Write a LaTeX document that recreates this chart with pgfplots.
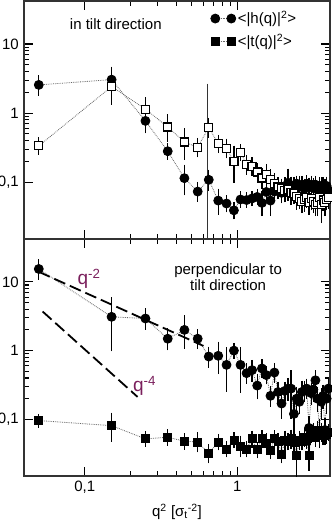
\documentclass[border=0pt]{standalone}
\usepackage{fontspec}
\setmainfont{Liberation Sans}
\usepackage{pgfplots}
\usepackage{pgfplotstable}
\pgfplotsset{compat=1.18}
\definecolor{annot}{HTML}{7A1F5C}

% x = q^2, y = value, e = error
\pgfplotstableread{
x y e
0.05 2.56 0.45
0.15 3.05 0.95
0.25 0.77 0.17
0.35 0.28 0.03
0.45 0.114 0.038
0.55 0.073 0.012
0.65 0.108 0.02
0.75 0.054 0.014
0.85 0.049 0.006
0.95 0.039 0.005
1.05 0.056 0.006
1.15 0.055 0.005
1.25 0.058 0.005
1.35 0.061 0.006
1.45 0.050 0.012
1.55 0.072 0.008
1.65 0.054 0.016
1.75 0.073 0.012
1.85 0.078 0.010
1.95 0.070 0.012
2.05 0.085 0.014
2.15 0.098 0.035
2.25 0.090 0.012
2.35 0.085 0.014
2.45 0.095 0.010
2.55 0.088 0.016
2.65 0.092 0.012
2.75 0.080 0.015
2.85 0.095 0.012
2.95 0.088 0.010
3.05 0.092 0.012
3.15 0.082 0.014
3.25 0.092 0.012
3.35 0.078 0.010
3.45 0.088 0.012
3.55 0.085 0.014
3.65 0.090 0.010
3.75 0.082 0.012
3.85 0.088 0.014
3.95 0.076 0.010
}\toph

\pgfplotstableread{
x y e
0.05 0.335 0.04
0.15 2.42 0.85
0.25 1.14 0.30
0.35 0.63 0.18
0.45 0.38 0.13
0.55 0.32 0.05
0.65 0.62 0.10
0.75 0.36 0.05
0.85 0.31 0.05
0.95 0.20 0.085
1.05 0.27 0.03
1.15 0.18 0.03
1.25 0.17 0.025
1.35 0.14 0.02
1.45 0.115 0.02
1.55 0.13 0.025
1.65 0.11 0.02
1.75 0.095 0.02
1.85 0.085 0.015
1.95 0.08 0.015
2.05 0.075 0.015
2.15 0.078 0.012
2.25 0.07 0.015
2.35 0.068 0.012
2.45 0.062 0.015
2.55 0.058 0.010
2.65 0.052 0.010
2.75 0.056 0.012
2.85 0.060 0.010
2.95 0.050 0.010
3.05 0.058 0.012
3.15 0.052 0.010
3.25 0.048 0.010
3.35 0.050 0.012
3.45 0.060 0.010
3.55 0.048 0.018
3.65 0.055 0.010
3.75 0.050 0.012
3.85 0.056 0.010
3.95 0.060 0.012
}\topt

\pgfplotstableread{
x y e
0.05 15.4 2.7
0.15 3.1 1.95
0.25 2.93 0.55
0.35 1.49 0.3
0.45 2.0 0.75
0.55 1.49 0.25
0.65 0.82 0.15
0.75 0.84 0.3
0.85 0.62 0.32
0.95 1.0 0.1
1.05 0.62 0.33
1.15 0.47 0.08
1.25 0.52 0.1
1.35 0.31 0.08
1.45 0.55 0.08
1.55 0.44 0.06
1.65 0.22 0.04
1.75 0.48 0.08
1.85 0.25 0.05
1.95 0.17 0.05
2.05 0.26 0.04
2.15 0.28 0.06
2.25 0.28 0.16
2.35 0.12 0.07
2.45 0.20 0.05
2.55 0.18 0.04
2.65 0.25 0.06
2.75 0.26 0.05
2.85 0.28 0.05
2.95 0.075 0.02
3.05 0.24 0.05
3.15 0.27 0.06
3.25 0.37 0.07
3.35 0.20 0.05
3.45 0.065 0.02
3.55 0.18 0.06
3.65 0.22 0.05
3.75 0.07 0.02
3.85 0.20 0.06
3.95 0.28 0.05
}\both

\pgfplotstableread{
x y e
0.05 0.096 0.006
0.15 0.081 0.025
0.25 0.052 0.005
0.35 0.055 0.006
0.45 0.048 0.005
0.55 0.047 0.008
0.65 0.032 0.005
0.75 0.047 0.005
0.85 0.037 0.004
0.95 0.050 0.005
1.05 0.041 0.008
1.15 0.037 0.004
1.25 0.052 0.006
1.35 0.036 0.004
1.45 0.053 0.006
1.55 0.045 0.008
1.65 0.035 0.004
1.75 0.053 0.006
1.85 0.048 0.006
1.95 0.031 0.004
2.05 0.050 0.008
2.15 0.048 0.006
2.25 0.052 0.008
2.35 0.046 0.006
2.45 0.030 0.013
2.55 0.050 0.008
2.65 0.048 0.006
2.75 0.055 0.008
2.85 0.050 0.006
2.95 0.030 0.009
3.05 0.062 0.008
3.15 0.065 0.010
3.25 0.055 0.008
3.35 0.070 0.010
3.45 0.060 0.008
3.55 0.065 0.010
3.65 0.058 0.008
3.75 0.068 0.010
3.85 0.060 0.008
3.95 0.065 0.008
}\bott

\begin{document}
\fontsize{15}{18}\selectfont
\begin{tikzpicture}
% lower panel: perpendicular to tilt direction
\begin{axis}[at={(0,0)}, anchor=south west,
  width=306pt, height=237pt, scale only axis,
  xmode=log, ymode=log,
  xmin=0.04, xmax=4.05, ymin=0.015, ymax=42,
  axis line style={black!80, line width=1.5pt},
  tick style={black, line width=1.1pt},
  major tick length=9pt, minor tick length=5pt,
  tick align=inside,
  xtick={0.1,1}, ytick={0.1,1,10},
  xticklabels={0{,}1,1}, yticklabels={0{,}1,1,10},
  xlabel={q\textsuperscript{2} [σ\textsubscript{t}\textsuperscript{-2}]},
]
\addplot[densely dotted, black!60, line width=0.8pt,
  mark=*, mark size=4.5pt, mark options={solid, black},
  error bars/.cd, y dir=both, y explicit,
  error bar style={solid, black, line width=1.3pt},
  error mark options={solid, black, line width=1.3pt, mark size=5pt}]
  table[x=x, y=y, y error=e] {\both};
\addplot[densely dotted, black!60, line width=0.8pt,
  mark=square*, mark size=4pt, mark options={solid, black},
  error bars/.cd, y dir=both, y explicit,
  error bar style={solid, black, line width=1.3pt},
  error mark options={solid, black, line width=1.3pt, mark size=5pt}]
  table[x=x, y=y, y error=e] {\bott};
\addplot[black, line width=1.8pt, dash pattern=on 12pt off 5pt] coordinates {(0.05,14) (0.6,1.17)};
\addplot[black, line width=1.8pt, dash pattern=on 12pt off 5pt] coordinates {(0.053,3.7) (0.222,0.212)};
\node[text=annot, anchor=base west, font=\fontsize{19}{20}\selectfont] at (axis cs:0.083,9.1) {q\textsuperscript{-2}};
\node[text=annot, anchor=base west, font=\fontsize{19}{20}\selectfont] at (axis cs:0.192,0.255) {q\textsuperscript{-4}};
\node[align=center, font=\fontsize{15}{16.5}\selectfont] at (rel axis cs:0.667,0.84) {perpendicular to\\tilt direction};
\end{axis}
% upper panel: in tilt direction
\begin{axis}[at={(0,237pt)}, anchor=south west,
  width=306pt, height=238pt, scale only axis,
  xmode=log, ymode=log,
  xmin=0.04, xmax=4.05, ymin=0.015, ymax=42,
  axis line style={black!80, line width=1.5pt},
  tick style={black, line width=1.1pt},
  major tick length=9pt, minor tick length=5pt,
  tick align=inside,
  xtick={0.1,1}, ytick={0.1,1,10},
  xticklabels={}, yticklabels={0{,}1,1,10},
  legend style={draw=none, fill=none, at={(rel axis cs:0.60,0.975)}, anchor=north west,
    row sep=4pt},
  legend cell align=left,
  legend image code/.code={\draw[#1] plot coordinates {(0pt,0pt) (16pt,0pt)};},
]
\addlegendimage{densely dotted, black!60, line width=0.8pt, mark=*, mark size=4.5pt, mark options={solid, black}}
\addlegendentry{<|h(q)|\textsuperscript{2}>}
\addlegendimage{densely dotted, black!60, line width=0.8pt, mark=square*, mark size=4pt, mark options={solid, black}}
\addlegendentry{<|t(q)|\textsuperscript{2}>}
\addplot[black!80, line width=0.9pt, forget plot] coordinates {(0.64,2.67) (0.64,0.001)};
\addplot[densely dotted, black!60, line width=0.8pt,
  mark=*, mark size=4.5pt, mark options={solid, black}, forget plot,
  error bars/.cd, y dir=both, y explicit,
  error bar style={solid, black, line width=1.3pt},
  error mark options={solid, black, line width=1.3pt, mark size=5pt}]
  table[x=x, y=y, y error=e] {\toph};
\addplot[densely dotted, black!60, line width=0.8pt,
  mark=square*, mark size=4pt, mark options={solid, draw=black, fill=white, line width=1.2pt}, forget plot,
  error bars/.cd, y dir=both, y explicit,
  error bar style={solid, black, line width=1.3pt},
  error mark options={solid, black, line width=1.3pt, mark size=5pt}]
  table[x=x, y=y, y error=e] {\topt};
\node at (rel axis cs:0.30,0.903) {in tilt direction};
\end{axis}
\pgfresetboundingbox
\path[use as bounding box] (-24pt,-49pt) rectangle (308pt,476pt);
\end{tikzpicture}
\end{document}
